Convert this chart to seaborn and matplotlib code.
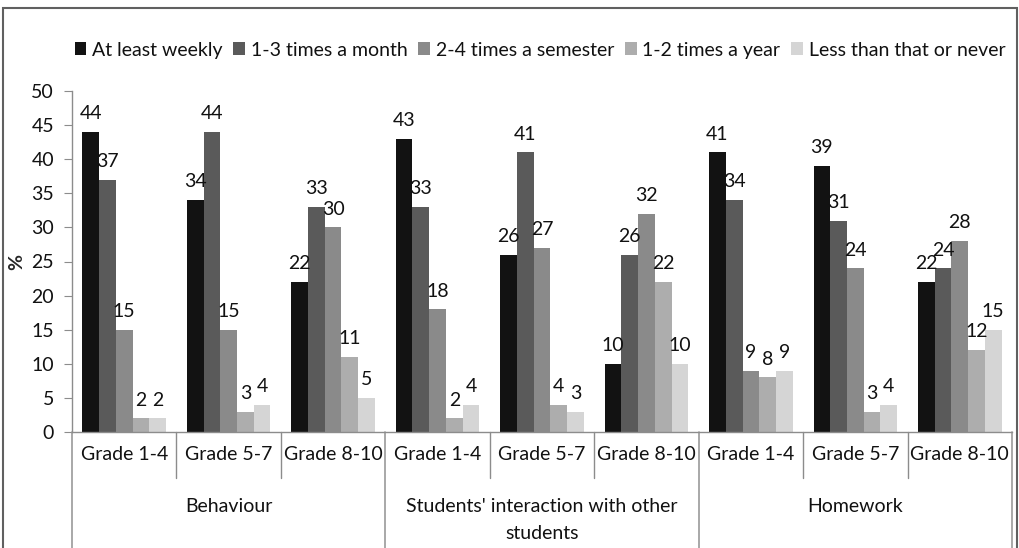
import numpy as np
import pandas as pd
import matplotlib
matplotlib.use("Agg")
import matplotlib.pyplot as plt
import seaborn as sns
from matplotlib.patches import Rectangle

# ---- data ----
groups = ["Behaviour", "Students' interaction with other\nstudents", "Homework"]
grades = ["Grade 1-4", "Grade 5-7", "Grade 8-10"]
series = ["At least weekly", "1-3 times a month", "2-4 times a semester",
          "1-2 times a year", "Less than that or never"]
at_least_weekly = [44, 34, 22, 43, 26, 10, 41, 39, 22]
times_month = [37, 44, 33, 33, 41, 26, 34, 31, 24]
times_semester = [15, 15, 30, 18, 27, 32, 9, 24, 28]
times_year = [2, 3, 11, 2, 4, 22, 8, 3, 12]
never = [2, 4, 5, 4, 3, 10, 9, 4, 15]
colors = ["#121212", "#5a5a5a", "#8a8a8a", "#adadad", "#d5d5d5"]

values = [at_least_weekly, times_month, times_semester, times_year, never]
cats = [f"{g}|{gr}" for g in groups for gr in grades]
rows = []
for s, vals in zip(series, values):
    for c, v in zip(cats, vals):
        rows.append({"cat": c, "series": s, "value": v})
df = pd.DataFrame(rows)

sns.set_style("white")
plt.rcParams["font.family"] = ["Lato", "DejaVu Sans"]
FS = 14

fig = plt.figure(figsize=(10.2, 5.48), dpi=100)
ax = fig.add_axes([72/1020, 1 - 432/548, (1012-72)/1020, (432-91)/548])

sns.barplot(data=df, x="cat", y="value", hue="series", order=cats,
            hue_order=series, palette=colors, ax=ax, width=0.8,
            saturation=1, edgecolor="none", linewidth=0, legend=True)

for cont in ax.containers:
    ax.bar_label(cont, fmt="%d", padding=7, fontsize=FS, color="#111111")

ax.set_ylim(0, 50)
ax.set_xlim(-0.5, len(cats) - 0.5)
ax.set_yticks(range(0, 51, 5))
ax.tick_params(axis="y", labelsize=FS, length=6, color="#8c8c8c",
               direction="out", left=True, labelcolor="#111111", pad=7)
ax.set_xticks(range(len(cats)))
ax.set_xticklabels([gr for g in groups for gr in grades], fontsize=FS,
                   color="#111111")
ax.tick_params(axis="x", length=0, pad=10)
ax.set_xlabel("")
ax.set_ylabel("%", fontsize=FS, fontweight="bold")
ax.yaxis.set_label_coords(-47/940, 0.5)

for side in ["top", "right"]:
    ax.spines[side].set_visible(False)
for side in ["left", "bottom"]:
    ax.spines[side].set_color("#8c8c8c")
    ax.spines[side].set_linewidth(1)

trans = ax.get_xaxis_transform()
n = len(grades)
for i in range(len(cats) + 1):
    x = i - 0.5
    if i % n == 0:
        ax.plot([x, x], [0, -0.345], transform=trans, color="#9a9a9a",
                lw=1.2, clip_on=False)
    else:
        ax.plot([x, x], [0, -0.135], transform=trans, color="#8c8c8c",
                lw=1, clip_on=False)
for gi, g in enumerate(groups):
    xc = gi * n + (n - 1) / 2
    ax.text(xc, -0.195, g, transform=trans, ha="center", va="top",
            fontsize=FS, color="#111111", linespacing=1.7)

leg = ax.legend(loc="center", bbox_to_anchor=(540/1020, (548-50)/548),
                bbox_transform=fig.transFigure, ncol=5, frameon=False,
                fontsize=FS, handlelength=0.6, handleheight=0.6,
                handletextpad=0.3, columnspacing=0.55, borderaxespad=0)
for t in leg.get_texts():
    t.set_color("#111111")

fig.patches.append(Rectangle((3.5/1020, -0.02), (1017-3.5)/1020,
                             1.02 - 8/548, transform=fig.transFigure,
                             fill=False, edgecolor="#606060", lw=1.5))

fig.savefig("out.png", dpi=100)
